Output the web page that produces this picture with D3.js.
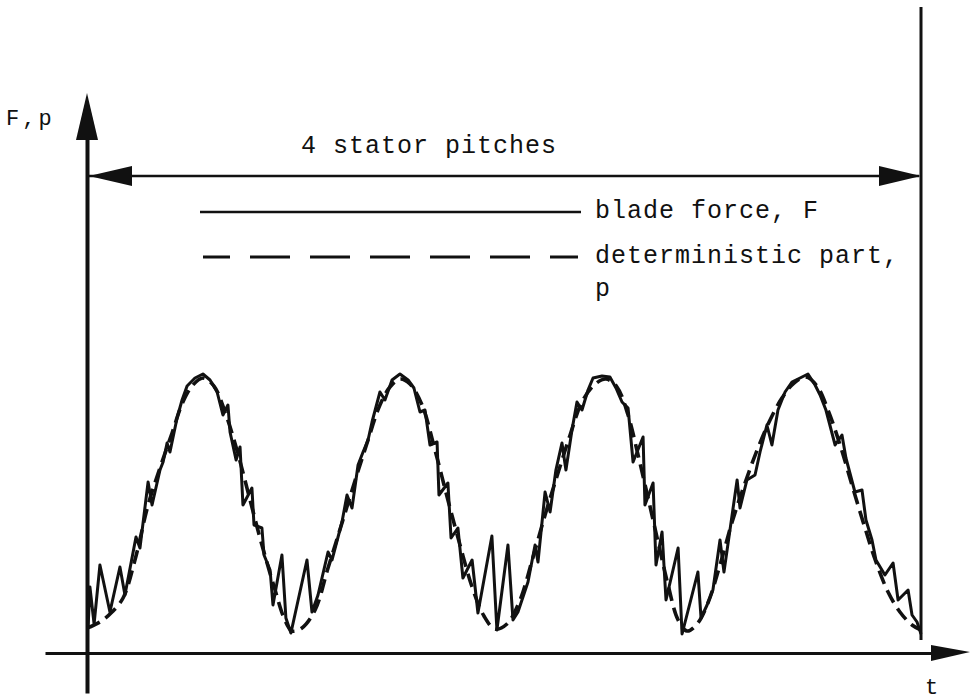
<!DOCTYPE html>
<html>
<head>
<meta charset="utf-8">
<script src="https://cdn.jsdelivr.net/npm/d3@7"></script>
<style>
  html, body { margin: 0; padding: 0; background: #ffffff; }
  svg { display: block; }
  text { font-family: "Liberation Mono", "DejaVu Sans Mono", monospace; fill: #111; }
</style>
</head>
<body>
<svg id="chart" width="970" height="700"></svg>
<script>
// Time axis in stator pitches (0..4), force in arbitrary units.
const pitchCount = 4;

// Deterministic part p(t): dashed curve
const pTime = [0, 0.062, 0.120, 0.173, 0.230, 0.293, 0.350, 0.408, 0.460, 0.508, 0.556,
  0.609, 0.662, 0.719, 0.782, 0.839, 0.902, 0.945, 0.983, 1.031, 1.094,
  1.156, 1.223, 1.285, 1.348, 1.405, 1.453, 1.501, 1.549, 1.607, 1.669,
  1.731, 1.789, 1.847, 1.904, 1.957, 2.014, 2.077, 2.134, 2.197, 2.259,
  2.317, 2.374, 2.432, 2.489, 2.542, 2.595, 2.643, 2.691, 2.739, 2.787,
  2.835, 2.878, 2.926, 2.978, 3.036, 3.094, 3.156, 3.218, 3.276, 3.333,
  3.391, 3.448, 3.501, 3.554, 3.612, 3.669, 3.727, 3.784, 3.842, 3.899,
  3.957, 4.000];
const pValue = [0.25, 0.31, 0.41, 0.55, 0.93, 1.48, 1.85, 2.20, 2.51, 2.68, 2.75,
  2.67, 2.41, 2.03, 1.53, 1.08, 0.63, 0.35, 0.22, 0.25, 0.43,
  0.85, 1.30, 1.72, 2.13, 2.48, 2.66, 2.74, 2.69, 2.48, 2.03,
  1.53, 1.08, 0.66, 0.37, 0.24, 0.29, 0.53, 0.92, 1.38, 1.80,
  2.18, 2.51, 2.68, 2.74, 2.66, 2.38, 1.98, 1.55, 1.11, 0.68,
  0.33, 0.22, 0.29, 0.50, 0.88, 1.31, 1.70, 2.05, 2.33, 2.55,
  2.70, 2.76, 2.67, 2.43, 2.08, 1.68, 1.28, 0.91, 0.61, 0.41,
  0.28, 0.23];

// Measured blade force F(t): solid curve
const fTime = [0.005, 0.014, 0.034, 0.062, 0.110, 0.158, 0.182, 0.235, 0.254, 0.293,
  0.312, 0.350, 0.365, 0.384, 0.398, 0.432, 0.456, 0.480, 0.518, 0.556,
  0.590, 0.624, 0.652, 0.676, 0.686, 0.715, 0.734, 0.748, 0.791, 0.801,
  0.839, 0.849, 0.878, 0.892, 0.935, 0.954, 0.978, 1.055, 1.079, 1.108,
  1.156, 1.175, 1.223, 1.247, 1.271, 1.300, 1.324, 1.348, 1.367, 1.405,
  1.429, 1.463, 1.501, 1.540, 1.568, 1.597, 1.621, 1.645, 1.679, 1.688,
  1.731, 1.746, 1.779, 1.803, 1.847, 1.875, 1.942, 1.966, 2.019, 2.043,
  2.067, 2.115, 2.149, 2.163, 2.197, 2.221, 2.249, 2.278, 2.297, 2.326,
  2.350, 2.374, 2.403, 2.427, 2.470, 2.508, 2.537, 2.566, 2.595, 2.619,
  2.667, 2.676, 2.715, 2.729, 2.758, 2.777, 2.835, 2.854, 2.930, 2.945,
  2.974, 3.002, 3.036, 3.055, 3.118, 3.132, 3.165, 3.204, 3.228, 3.261,
  3.285, 3.314, 3.348, 3.381, 3.420, 3.458, 3.492, 3.516, 3.544, 3.588,
  3.621, 3.640, 3.683, 3.717, 3.736, 3.765, 3.784, 3.827, 3.866, 3.890,
  3.938, 3.957, 3.981, 4.000];
const fValue = [0.25, 0.66, 0.29, 0.88, 0.41, 0.86, 0.58, 1.16, 1.05, 1.71,
  1.48, 1.83, 1.91, 2.10, 2.01, 2.35, 2.53, 2.67, 2.75, 2.79,
  2.73, 2.61, 2.38, 2.48, 2.21, 1.93, 2.06, 1.48, 1.65, 1.28,
  1.25, 0.98, 0.83, 0.48, 0.98, 0.35, 0.20, 0.93, 0.41, 0.58,
  1.01, 0.93, 1.31, 1.58, 1.45, 1.88, 2.01, 2.13, 2.31, 2.61,
  2.53, 2.73, 2.79, 2.73, 2.65, 2.41, 2.43, 2.08, 2.11, 1.58,
  1.70, 1.15, 1.25, 0.75, 0.93, 0.40, 1.17, 0.23, 1.08, 0.33,
  0.41, 0.71, 1.08, 0.91, 1.61, 1.41, 1.83, 2.10, 1.83, 2.23,
  2.51, 2.43, 2.63, 2.75, 2.77, 2.76, 2.65, 2.51, 2.45, 1.91,
  2.16, 1.48, 1.70, 0.88, 1.21, 0.53, 1.05, 0.19, 0.81, 0.35,
  0.48, 0.63, 1.13, 0.81, 1.73, 1.45, 1.73, 1.78, 2.01, 2.28,
  2.08, 2.43, 2.61, 2.71, 2.75, 2.79, 2.68, 2.58, 2.43, 2.08,
  2.18, 1.95, 1.61, 1.63, 1.33, 1.13, 0.93, 0.78, 0.90, 0.53,
  0.63, 0.38, 0.31, 0.19];

// Labels
const yAxisLabel = "F,p";
const xAxisLabel = "t";
const spanLabel = "4 stator pitches";
const legendLabels = ["blade force, F", "deterministic part,", "p"];

const ink = "#111";
const svg = d3.select("#chart");

const x = d3.scaleLinear().domain([0, pitchCount]).range([87, 921]);
const y = d3.scaleLinear().domain([0, 5.6]).range([653, 93]);

// Axis lines (no ticks); they run a little past the origin like a hand drawing
const xAxisScale = x.copy().domain([x.invert(45), x.invert(935)]).range([45, 935]);
const yAxisScale = y.copy().domain([y.invert(693), y.invert(136)]).range([693, 136]);

const gx = svg.append("g")
  .attr("transform", `translate(0,${y(0)})`)
  .call(d3.axisBottom(xAxisScale).tickValues([]).tickSizeOuter(0));
gx.select(".domain").attr("stroke", ink).attr("stroke-width", 3.2);

const gy = svg.append("g")
  .attr("transform", `translate(${x(0)},0)`)
  .call(d3.axisLeft(yAxisScale).tickValues([]).tickSizeOuter(0));
gy.select(".domain").attr("stroke", ink).attr("stroke-width", 4);

// Arrowheads on the axes
const xEnd = xAxisScale.range()[1];
svg.append("path")
  .attr("d", `M${xEnd - 4},${y(0) - 8} L970,${y(0) - 1} L${xEnd - 4},${y(0) + 8} Z`)
  .attr("fill", ink);
const yTop = y.range()[1];
svg.append("path")
  .attr("d", `M${x(0)},${yTop} L${x(0) + 11},${yTop + 47} L${x(0) - 11},${yTop + 47} Z`)
  .attr("fill", ink);

// End marker at t = 4 pitches
svg.append("line")
  .attr("x1", x(pitchCount)).attr("x2", x(pitchCount))
  .attr("y1", 7).attr("y2", y(0.13))
  .attr("stroke", ink).attr("stroke-width", 3);

// Span arrow covering the four pitches
const spanY = 176;
svg.append("line")
  .attr("x1", x(0) + 2).attr("x2", x(pitchCount) - 2)
  .attr("y1", spanY).attr("y2", spanY)
  .attr("stroke", ink).attr("stroke-width", 2.6);
svg.append("path")
  .attr("d", `M${x(0) + 2},${spanY} L${x(0) + 45},${spanY - 10} L${x(0) + 45},${spanY + 10} Z`)
  .attr("fill", ink);
svg.append("path")
  .attr("d", `M${x(pitchCount)},${spanY} L${x(pitchCount) - 42},${spanY - 10} L${x(pitchCount) - 42},${spanY + 10} Z`)
  .attr("fill", ink);

svg.append("text")
  .attr("x", 301).attr("y", 153)
  .style("font-size", "25px").style("letter-spacing", "1px")
  .text(spanLabel);

// Legend
svg.append("line")
  .attr("x1", 200).attr("x2", 581).attr("y1", 212).attr("y2", 212)
  .attr("stroke", ink).attr("stroke-width", 2.6);
svg.append("line")
  .attr("x1", 203).attr("x2", 578).attr("y1", 257).attr("y2", 257)
  .attr("stroke", ink).attr("stroke-width", 3)
  .attr("stroke-dasharray", "40 20").attr("stroke-dashoffset", 13);

svg.selectAll("text.legend")
  .data(legendLabels)
  .join("text")
  .attr("class", "legend")
  .attr("x", 595)
  .attr("y", (d, i) => [218, 263, 296][i])
  .style("font-size", "25px").style("letter-spacing", "1px")
  .text(d => d);

// Axis labels
svg.append("text")
  .attr("x", 6).attr("y", 125)
  .style("font-size", "22px").style("letter-spacing", "3px")
  .text(yAxisLabel);
svg.append("text")
  .attr("x", 925).attr("y", 694)
  .style("font-size", "22px")
  .text(xAxisLabel);

// Curves
const pData = pTime.map((t, i) => ({ t, v: pValue[i] }));
const fData = fTime.map((t, i) => ({ t, v: fValue[i] }));

svg.append("path")
  .datum(pData)
  .attr("fill", "none")
  .attr("stroke", ink)
  .attr("stroke-width", 3.6)
  .attr("stroke-dasharray", "14 7")
  .attr("d", d3.line().x(d => x(d.t)).y(d => y(d.v)).curve(d3.curveCatmullRom.alpha(0.5)));

svg.append("path")
  .datum(fData)
  .attr("fill", "none")
  .attr("stroke", ink)
  .attr("stroke-width", 3)
  .attr("stroke-linejoin", "round")
  .attr("d", d3.line().x(d => x(d.t)).y(d => y(d.v)));
</script>
</body>
</html>
